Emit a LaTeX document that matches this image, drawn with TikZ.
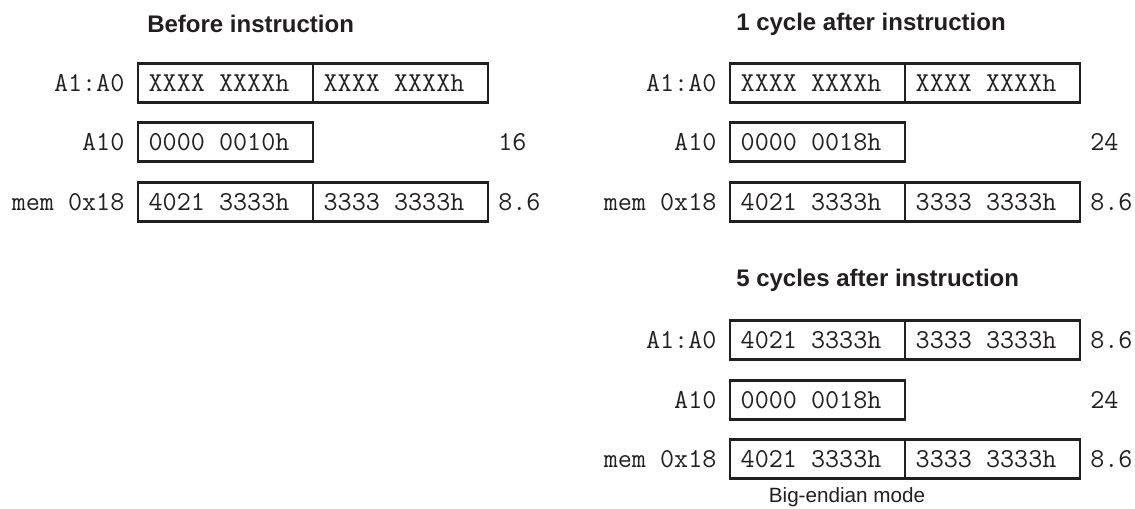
\documentclass[tikz,border=0pt]{standalone}
\usepackage{fontspec}
\setmainfont{Liberation Sans}
\definecolor{ink}{HTML}{231F20}
\usetikzlibrary{positioning}

\begin{document}
\begin{tikzpicture}[x=0.75pt, y=-0.75pt,
  cell/.style={draw=ink, line width=2.2pt, outer sep=0pt, text width=115.25pt,
               inner xsep=8pt, inner ysep=0pt, minimum height=29.5pt, align=flush left,
               font=\ttfamily\fontsize{20.5}{22}\selectfont, text=ink},
  rlabel/.style={font=\ttfamily\fontsize{20.5}{22}\selectfont, text=ink, inner sep=0pt},
  ptitle/.style={font=\bfseries\fontsize{18}{20}\selectfont, text=ink,
                 inner sep=0pt, anchor=west},
]
\useasboundingbox (0,0) rectangle (1135,509);

% before instruction
\node[ptitle] (b-title) at (147,24) {Before instruction};
\node[cell, anchor=west] (b-a1) at (138,83) {XXXX XXXXh};
\node[cell, right=0pt of b-a1] (b-a0) {XXXX XXXXh};
\node[cell, anchor=west] (b-x1) at (138,142) {0000 0010h};
\node[cell, anchor=west] (b-m1) at (138,202) {4021 3333h};
\node[cell, right=0pt of b-m1] (b-m0) {3333 3333h};

\node[rlabel, left=10pt of b-a1] {A1:A0};
\node[rlabel, left=10pt of b-x1] {A10};
\node[rlabel, left=10pt of b-m1] {mem 0x18};
\node[rlabel, anchor=west, xshift=7.5pt] (b-n2) at (b-a0.east |- b-x1) {16};
\node[rlabel, right=7.5pt of b-m0] (b-n3) {8.6};

% 1 cycle after instruction
\node[ptitle] (c-title) at (736,24) {1 cycle after instruction};
\node[cell, anchor=west] (c-a1) at (730,83) {XXXX XXXXh};
\node[cell, right=0pt of c-a1] (c-a0) {XXXX XXXXh};
\node[cell, anchor=west] (c-x1) at (730,142) {0000 0018h};
\node[cell, anchor=west] (c-m1) at (730,202) {4021 3333h};
\node[cell, right=0pt of c-m1] (c-m0) {3333 3333h};

\node[rlabel, left=10pt of c-a1] {A1:A0};
\node[rlabel, left=10pt of c-x1] {A10};
\node[rlabel, left=10pt of c-m1] {mem 0x18};
\node[rlabel, anchor=west, xshift=7.5pt] (c-n2) at (c-a0.east |- c-x1) {24};
\node[rlabel, right=7.5pt of c-m0] (c-n3) {8.6};

% 5 cycles after instruction
\node[ptitle] (f-title) at (736,280) {5 cycles after instruction};
\node[cell, anchor=west] (f-a1) at (730,340) {4021 3333h};
\node[cell, right=0pt of f-a1] (f-a0) {3333 3333h};
\node[cell, anchor=west] (f-x1) at (730,400) {0000 0018h};
\node[cell, anchor=west] (f-m1) at (730,459) {4021 3333h};
\node[cell, right=0pt of f-m1] (f-m0) {3333 3333h};

\node[rlabel, left=10pt of f-a1] {A1:A0};
\node[rlabel, left=10pt of f-x1] {A10};
\node[rlabel, left=10pt of f-m1] {mem 0x18};
\node[rlabel, right=7.5pt of f-a0] (f-n1) {8.6};
\node[rlabel, anchor=west, xshift=7.5pt] (f-n2) at (f-a0.east |- f-x1) {24};
\node[rlabel, right=7.5pt of f-m0] (f-n3) {8.6};

\node[font=\fontsize{15.5}{18}\selectfont, text=ink, inner sep=0pt] (mode) at (847,497) {Big-endian mode};
\end{tikzpicture}
\end{document}
